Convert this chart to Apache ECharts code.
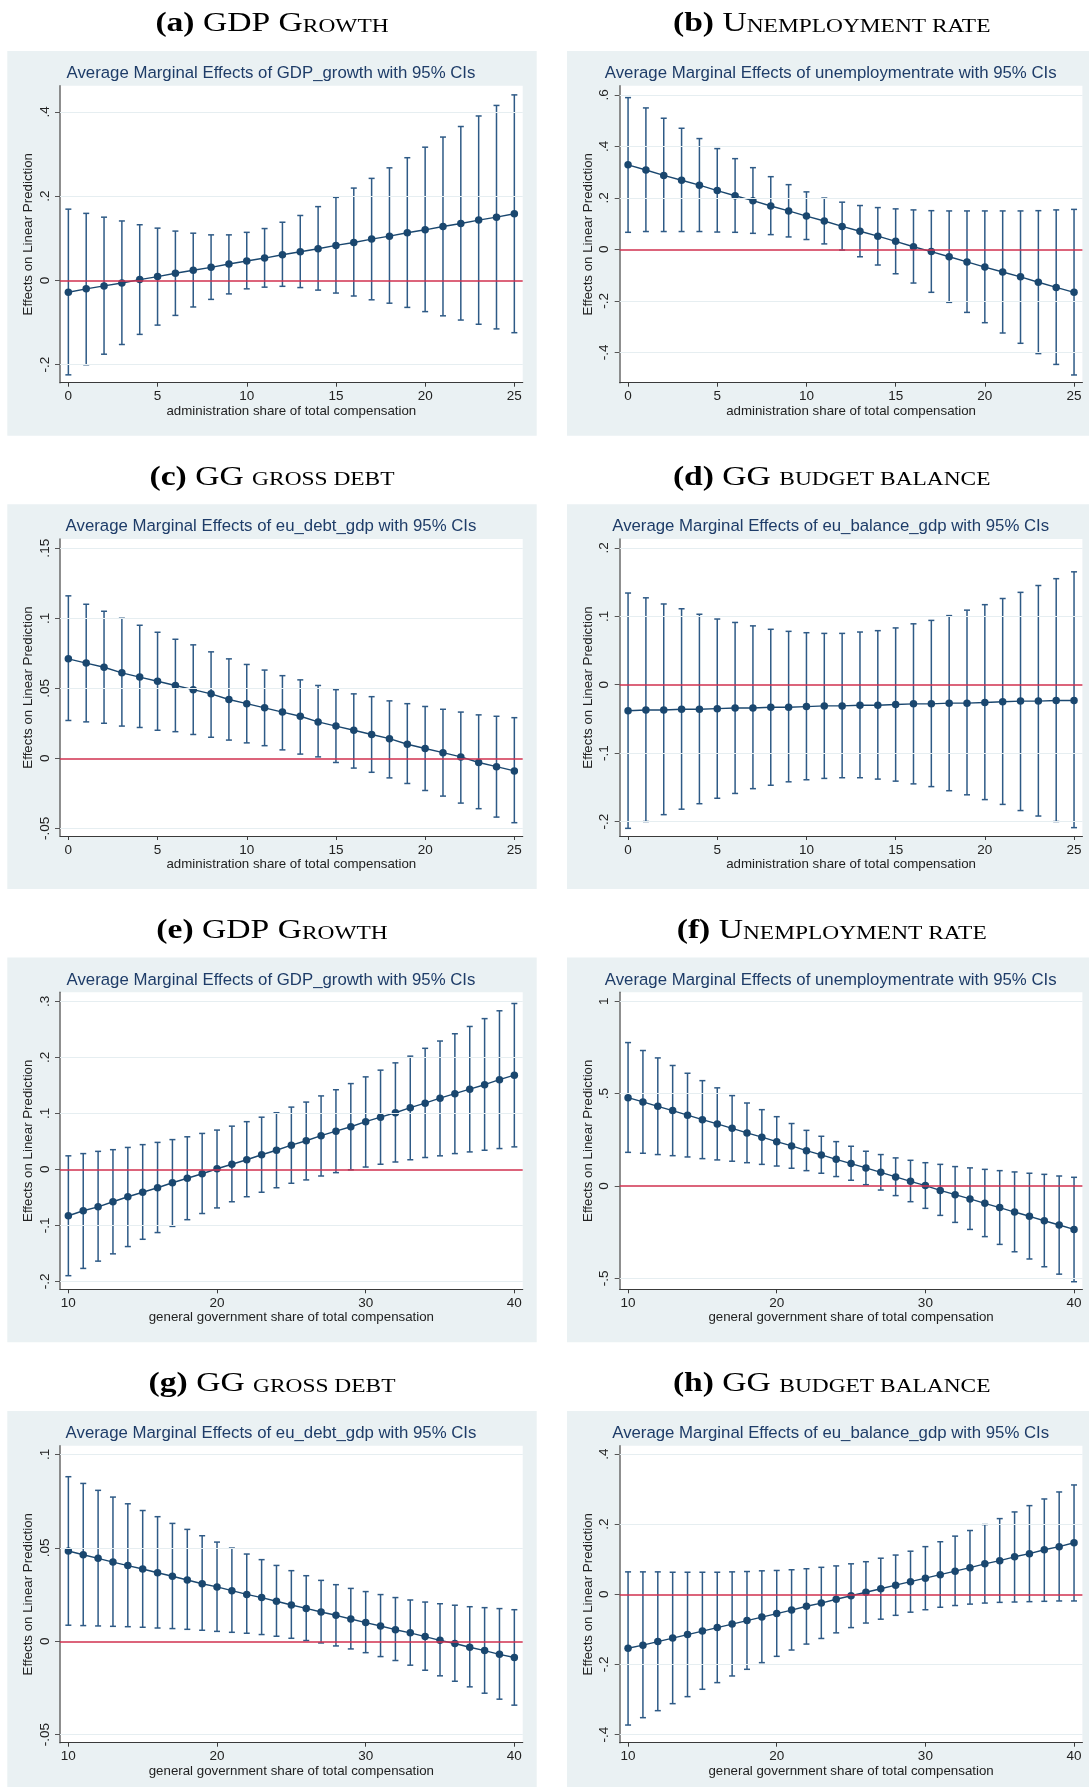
<!DOCTYPE html>
<html><head><meta charset="utf-8">
<script src="https://cdn.jsdelivr.net/npm/echarts@6/dist/echarts.min.js"></script>
<style>html,body{margin:0;padding:0;background:#fff}#c{width:1089px;height:1787px}</style>
</head><body><div id="c"></div>
<script>
// ---------- DATA ----------
const xAdmin = [0,1,2,3,4,5,6,7,8,9,10,11,12,13,14,15,16,17,18,19,20,21,22,23,24,25];
const xGG = [10,11,12,13,14,15,16,17,18,19,20,21,22,23,24,25,26,27,28,29,30,31,32,33,34,35,36,37,38,39,40];
const xTicksAdmin = [0,5,10,15,20,25];
const xTicksGG = [10,20,30,40];
const xNameAdmin = 'administration share of total compensation';
const xNameGG = 'general government share of total compensation';
const yName = 'Effects on Linear Prediction';

// (a) GDP growth, admin share
const aEst = [-0.028,-0.020,-0.013,-0.006,0.002,0.009,0.017,0.024,0.031,0.039,0.046,0.053,0.061,0.068,0.075,0.083,0.090,0.098,0.105,0.113,0.120,0.128,0.135,0.143,0.150,0.158];
const aHi  = [0.169,0.159,0.150,0.141,0.132,0.124,0.117,0.112,0.108,0.108,0.114,0.123,0.138,0.154,0.175,0.197,0.219,0.242,0.267,0.291,0.316,0.340,0.365,0.390,0.415,0.440];
const aLo  = [-0.224,-0.200,-0.175,-0.152,-0.128,-0.106,-0.083,-0.063,-0.045,-0.032,-0.020,-0.016,-0.014,-0.017,-0.023,-0.030,-0.037,-0.046,-0.054,-0.064,-0.074,-0.084,-0.094,-0.104,-0.115,-0.124];
const aYTicks = [-0.2,0,0.2,0.4];
const aYRange = [-0.2426,0.4618];
// (b) unemployment, admin share
const bEst = [0.328,0.308,0.287,0.268,0.249,0.228,0.208,0.189,0.168,0.149,0.129,0.110,0.089,0.070,0.051,0.031,0.010,-0.009,-0.029,-0.049,-0.069,-0.088,-0.107,-0.128,-0.148,-0.167];
const bHi  = [0.589,0.549,0.509,0.470,0.430,0.391,0.352,0.317,0.282,0.251,0.223,0.199,0.183,0.170,0.162,0.157,0.153,0.150,0.149,0.149,0.149,0.149,0.149,0.150,0.153,0.155];
const bLo  = [0.066,0.069,0.069,0.069,0.069,0.067,0.066,0.062,0.057,0.048,0.038,0.021,-0.003,-0.029,-0.061,-0.095,-0.131,-0.167,-0.206,-0.245,-0.285,-0.325,-0.365,-0.405,-0.447,-0.488];
const bYTicks = [-0.4,-0.2,0,0.2,0.4,0.6];
const bYRange = [-0.518,0.6353];
// (c) gross debt, admin share
const cEst = [0.071,0.068,0.065,0.061,0.058,0.055,0.052,0.049,0.046,0.042,0.039,0.036,0.033,0.030,0.026,0.023,0.020,0.017,0.014,0.010,0.007,0.004,0.001,-0.003,-0.006,-0.009];
const cHi  = [0.116,0.110,0.105,0.100,0.095,0.090,0.085,0.081,0.076,0.071,0.067,0.063,0.059,0.056,0.052,0.049,0.046,0.044,0.041,0.039,0.037,0.035,0.033,0.031,0.030,0.029];
const cLo  = [0.027,0.026,0.025,0.023,0.022,0.020,0.019,0.017,0.015,0.013,0.011,0.009,0.006,0.003,0.001,-0.003,-0.007,-0.010,-0.014,-0.018,-0.023,-0.027,-0.032,-0.036,-0.042,-0.046];
const cYTicks = [-0.05,0,0.05,0.1,0.15];
const cYRange = [-0.0555,0.1566];
// (d) budget balance, admin share
const dEst = [-0.038,-0.037,-0.037,-0.036,-0.036,-0.035,-0.034,-0.034,-0.033,-0.033,-0.032,-0.031,-0.031,-0.030,-0.030,-0.029,-0.028,-0.028,-0.027,-0.027,-0.026,-0.025,-0.024,-0.024,-0.023,-0.023];
const dHi  = [0.134,0.127,0.118,0.111,0.103,0.096,0.091,0.086,0.081,0.078,0.076,0.075,0.075,0.077,0.079,0.083,0.089,0.094,0.101,0.109,0.117,0.126,0.135,0.145,0.155,0.165];
const dLo  = [-0.210,-0.200,-0.190,-0.182,-0.174,-0.166,-0.159,-0.152,-0.147,-0.142,-0.139,-0.137,-0.136,-0.136,-0.138,-0.141,-0.145,-0.149,-0.155,-0.161,-0.168,-0.175,-0.184,-0.192,-0.200,-0.209];
const dYTicks = [-0.2,-0.1,0,0.1,0.2];
const dYRange = [-0.2212,0.213];
// (e) GDP growth, GG share
const eEst = [-0.083,-0.074,-0.067,-0.058,-0.049,-0.041,-0.033,-0.024,-0.016,-0.008,0.001,0.009,0.017,0.026,0.034,0.043,0.051,0.060,0.068,0.076,0.085,0.093,0.101,0.110,0.118,0.127,0.135,0.143,0.151,0.160,0.168];
const eHi  = [0.024,0.028,0.032,0.035,0.039,0.044,0.048,0.053,0.058,0.064,0.070,0.077,0.085,0.093,0.101,0.111,0.120,0.131,0.142,0.153,0.165,0.177,0.190,0.202,0.216,0.229,0.242,0.255,0.269,0.283,0.296];
const eLo  = [-0.190,-0.177,-0.164,-0.151,-0.138,-0.125,-0.113,-0.102,-0.090,-0.079,-0.069,-0.058,-0.049,-0.041,-0.033,-0.025,-0.019,-0.012,-0.006,-0.001,0.004,0.009,0.013,0.017,0.021,0.024,0.028,0.031,0.034,0.037,0.040];
const eYTicks = [-0.2,-0.1,0,0.1,0.2,0.3];
const eYRange = [-0.2143,0.316];
// (f) unemployment, GG share
const fEst = [0.478,0.455,0.431,0.408,0.383,0.359,0.336,0.312,0.287,0.264,0.240,0.217,0.191,0.168,0.144,0.121,0.098,0.074,0.049,0.025,0.002,-0.024,-0.047,-0.070,-0.094,-0.117,-0.141,-0.164,-0.188,-0.211,-0.235];
const fHi  = [0.776,0.733,0.693,0.652,0.610,0.570,0.531,0.489,0.449,0.413,0.375,0.338,0.301,0.269,0.240,0.215,0.188,0.170,0.152,0.139,0.126,0.117,0.105,0.098,0.090,0.083,0.076,0.069,0.063,0.054,0.047];
const fLo  = [0.182,0.177,0.170,0.164,0.157,0.148,0.141,0.134,0.126,0.117,0.108,0.096,0.083,0.069,0.051,0.031,0.007,-0.022,-0.052,-0.085,-0.121,-0.159,-0.197,-0.235,-0.274,-0.316,-0.356,-0.395,-0.437,-0.477,-0.518];
const fYTicks = [-0.5,0,0.5,1];
const fYRange = [-0.559,1.048];
// (g) gross debt, GG share
const gEst = [0.0483,0.0463,0.0444,0.0424,0.0405,0.0387,0.0367,0.0348,0.0328,0.0308,0.0291,0.0271,0.0251,0.0234,0.0214,0.0194,0.0176,0.0157,0.0139,0.0119,0.0100,0.0082,0.0062,0.0045,0.0025,0.0005,-0.0012,-0.0032,-0.0050,-0.0070,-0.0087];
const gHi  = [0.0881,0.0845,0.0808,0.0772,0.0736,0.0700,0.0667,0.0631,0.0599,0.0565,0.0531,0.0499,0.0467,0.0437,0.0406,0.0378,0.0351,0.0326,0.0303,0.0283,0.0266,0.0250,0.0234,0.0221,0.0210,0.0201,0.0193,0.0185,0.0180,0.0175,0.0169];
const gLo  = [0.0086,0.0084,0.0082,0.0080,0.0078,0.0075,0.0071,0.0068,0.0064,0.0059,0.0053,0.0048,0.0043,0.0036,0.0027,0.0016,0.0004,-0.0009,-0.0025,-0.0041,-0.0061,-0.0082,-0.0103,-0.0128,-0.0155,-0.0185,-0.0214,-0.0244,-0.0278,-0.0310,-0.0342];
const gYTicks = [-0.05,0,0.05,0.1];
const gYRange = [-0.0543,0.1047];
// (h) budget balance, GG share
const hEst = [-0.154,-0.145,-0.135,-0.125,-0.115,-0.105,-0.095,-0.085,-0.075,-0.065,-0.055,-0.045,-0.034,-0.025,-0.014,-0.004,0.006,0.016,0.026,0.036,0.046,0.056,0.066,0.076,0.087,0.096,0.107,0.116,0.127,0.136,0.147];
const hHi  = [0.064,0.064,0.064,0.063,0.063,0.063,0.063,0.064,0.065,0.067,0.068,0.070,0.073,0.077,0.081,0.087,0.093,0.103,0.112,0.123,0.136,0.150,0.166,0.182,0.199,0.216,0.235,0.253,0.272,0.292,0.312];
const hLo  = [-0.373,-0.352,-0.332,-0.312,-0.292,-0.271,-0.252,-0.233,-0.214,-0.195,-0.177,-0.159,-0.142,-0.126,-0.110,-0.095,-0.082,-0.071,-0.060,-0.051,-0.044,-0.037,-0.032,-0.028,-0.025,-0.023,-0.022,-0.021,-0.020,-0.019,-0.019];
const hYTicks = [-0.4,-0.2,0,0.2,0.4];
const hYRange = [-0.4234,0.424];

const panels = [
  {lab:'(a)', cap:[['GDP G','n'],['ROWTH','s']], title:'Average Marginal Effects of GDP_growth with 95% CIs', x:xAdmin, est:aEst, lo:aLo, hi:aHi, xt:xTicksAdmin, yt:aYTicks, yr:aYRange, xn:xNameAdmin},
  {lab:'(b)', cap:[['U','n'],['NEMPLOYMENT RATE','s']], title:'Average Marginal Effects of unemploymentrate with 95% CIs', x:xAdmin, est:bEst, lo:bLo, hi:bHi, xt:xTicksAdmin, yt:bYTicks, yr:bYRange, xn:xNameAdmin},
  {lab:'(c)', cap:[['GG ','n'],['GROSS DEBT','s']], title:'Average Marginal Effects of eu_debt_gdp with 95% CIs', x:xAdmin, est:cEst, lo:cLo, hi:cHi, xt:xTicksAdmin, yt:cYTicks, yr:cYRange, xn:xNameAdmin},
  {lab:'(d)', cap:[['GG ','n'],['BUDGET BALANCE','s']], title:'Average Marginal Effects of eu_balance_gdp with 95% CIs', x:xAdmin, est:dEst, lo:dLo, hi:dHi, xt:xTicksAdmin, yt:dYTicks, yr:dYRange, xn:xNameAdmin},
  {lab:'(e)', cap:[['GDP G','n'],['ROWTH','s']], title:'Average Marginal Effects of GDP_growth with 95% CIs', x:xGG, est:eEst, lo:eLo, hi:eHi, xt:xTicksGG, yt:eYTicks, yr:eYRange, xn:xNameGG},
  {lab:'(f)', cap:[['U','n'],['NEMPLOYMENT RATE','s']], title:'Average Marginal Effects of unemploymentrate with 95% CIs', x:xGG, est:fEst, lo:fLo, hi:fHi, xt:xTicksGG, yt:fYTicks, yr:fYRange, xn:xNameGG},
  {lab:'(g)', cap:[['GG ','n'],['GROSS DEBT','s']], title:'Average Marginal Effects of eu_debt_gdp with 95% CIs', x:xGG, est:gEst, lo:gLo, hi:gHi, xt:xTicksGG, yt:gYTicks, yr:gYRange, xn:xNameGG},
  {lab:'(h)', cap:[['GG ','n'],['BUDGET BALANCE','s']], title:'Average Marginal Effects of eu_balance_gdp with 95% CIs', x:xGG, est:hEst, lo:hLo, hi:hHi, xt:xTicksGG, yt:hYTicks, yr:hYRange, xn:xNameGG}
];

// ---------- LAYOUT / STYLE ----------
const colLeft = [7.3, 567];
const rowTop = [51, 504.3, 957.6, 1411];
const panelW = 529.4, panelH = 384.7;
const plotDX = 52.7, plotDY = 34.7, plotW = 462.7, plotH = 297;
const xPadFrac = 0.01875;
const NAVY = '#1a476f', BAR = '#2e5a86', RED = '#d0304f', BG = '#eaf1f3', GRID = '#e6eef1';
const SANS = '"Liberation Sans", Arial, sans-serif';
const SERIF = '"Liberation Serif", "Times New Roman", serif';

function fmt(v){ const s = String(+(+v).toFixed(4)); return s.replace(/^(-?)0\./,'$1.'); }

const graphic = [], grid = [], xAxis = [], yAxis = [], series = [];
panels.forEach((p, i) => {
  const c = i % 2, r = Math.floor(i / 2);
  const gx = colLeft[c], gy = rowTop[r];
  const px = gx + plotDX, py = gy + plotDY;
  graphic.push({type:'rect', z:-10, silent:true, shape:{x:gx, y:gy, width:panelW, height:panelH}, style:{fill:BG}});
  graphic.push({type:'rect', z:-9, silent:true, shape:{x:px, y:py, width:plotW, height:plotH}, style:{fill:'#ffffff'}});
  // subfigure caption
  let txt = '{b|' + p.lab + '}{n| }' + p.cap.map(t => '{' + t[1] + '|' + t[0] + '}').join('');
  graphic.push({type:'text', z:10, silent:true, x: gx + panelW/2, y: gy - 28, scaleX:1.2,
    style:{text: txt, align:'center', verticalAlign:'middle', fill:'#000',
      rich:{
        b:{fontFamily:SERIF, fontWeight:'bold', fontSize:28, verticalAlign:'bottom', lineHeight:30},
        n:{fontFamily:SERIF, fontSize:28, verticalAlign:'bottom', lineHeight:30},
        s:{fontFamily:SERIF, fontSize:19.5, verticalAlign:'bottom', lineHeight:30, padding:[0,0,1,0]}
      }}});
  // chart title
  graphic.push({type:'text', z:10, silent:true, x: gx + panelW/2 - 1, y: gy + 22.3,
    style:{text:p.title, align:'center', verticalAlign:'middle', fill:'#1e3c68', font:'16.8px ' + SANS}});

  grid.push({left:px, top:py, width:plotW, height:plotH, containLabel:false, show:false});
  const lo = p.xt[0], hi = p.xt[p.xt.length-1], span = hi - lo;
  xAxis.push({type:'value', gridIndex:i, min: lo - xPadFrac*span, max: hi + xPadFrac*span,
    name:p.xn, nameLocation:'middle', nameGap:21.5, nameTextStyle:{fontFamily:SANS, fontSize:13.3, color:'#222'},
    axisLine:{show:true, onZero:false, lineStyle:{color:'#3a3a3a', width:1.2}},
    axisTick:{show:true, length:4, customValues:p.xt, lineStyle:{color:'#3a3a3a', width:1}},
    axisLabel:{customValues:p.xt, margin:7, fontFamily:SANS, fontSize:13.5, color:'#222', formatter:fmt},
    splitLine:{show:false}});
  yAxis.push({type:'value', gridIndex:i, min:p.yr[0], max:p.yr[1],
    name:yName, nameLocation:'middle', nameRotate:90, nameGap:25, nameTextStyle:{fontFamily:SANS, fontSize:13.3, color:'#222'},
    axisLine:{show:true, onZero:false, lineStyle:{color:'#6a6a6a', width:1.5}},
    axisTick:{show:true, length:5, customValues:p.yt, lineStyle:{color:'#555', width:1}},
    axisLabel:{customValues:p.yt, rotate:90, margin:8, fontFamily:SANS, fontSize:13.5, color:'#222', formatter:fmt},
    splitLine:{show:false}});
  // gridlines
  series.push({type:'line', xAxisIndex:i, yAxisIndex:i, data:[], silent:true, z:1, animation:false,
    markLine:{silent:true, symbol:'none', animation:false, label:{show:false},
      lineStyle:{color:GRID, width:1.2, type:'solid'},
      data:p.yt.filter(v => v !== 0).map(v => ({yAxis:v}))}});
  // zero reference line
  series.push({type:'line', xAxisIndex:i, yAxisIndex:i, data:[], silent:true, z:2, animation:false,
    markLine:{silent:true, symbol:'none', animation:false, label:{show:false},
      lineStyle:{color:RED, width:1.5, type:'solid'}, data:[{yAxis:0}]}});
  // CI caps
  series.push({type:'custom', xAxisIndex:i, yAxisIndex:i, z:3, animation:false, silent:true,
    data:p.x.map((x, k) => [x, p.lo[k], p.hi[k]]),
    renderItem:function(params, api){
      const x = api.value(0);
      const a = api.coord([x, api.value(2)]), b = api.coord([x, api.value(1)]);
      const w = 3, st = {stroke:BAR, lineWidth:1.5};
      return {type:'group', children:[
        {type:'line', shape:{x1:a[0], y1:a[1], x2:b[0], y2:b[1]}, style:st},
        {type:'line', shape:{x1:a[0]-w, y1:a[1], x2:a[0]+w, y2:a[1]}, style:st},
        {type:'line', shape:{x1:b[0]-w, y1:b[1], x2:b[0]+w, y2:b[1]}, style:st}
      ]};
    }});
  // point estimates
  series.push({type:'line', xAxisIndex:i, yAxisIndex:i, z:4, animation:false, silent:true,
    data:p.x.map((x, k) => [x, p.est[k]]),
    symbol:'circle', symbolSize:7.5, showSymbol:true,
    itemStyle:{color:NAVY}, lineStyle:{color:NAVY, width:1.4}});
});

const chart = echarts.init(document.getElementById('c'), null, {renderer:'canvas', width:1089, height:1787});
chart.setOption({animation:false, backgroundColor:'#ffffff', graphic:graphic, grid:grid, xAxis:xAxis, yAxis:yAxis, series:series});
</script></body></html>
